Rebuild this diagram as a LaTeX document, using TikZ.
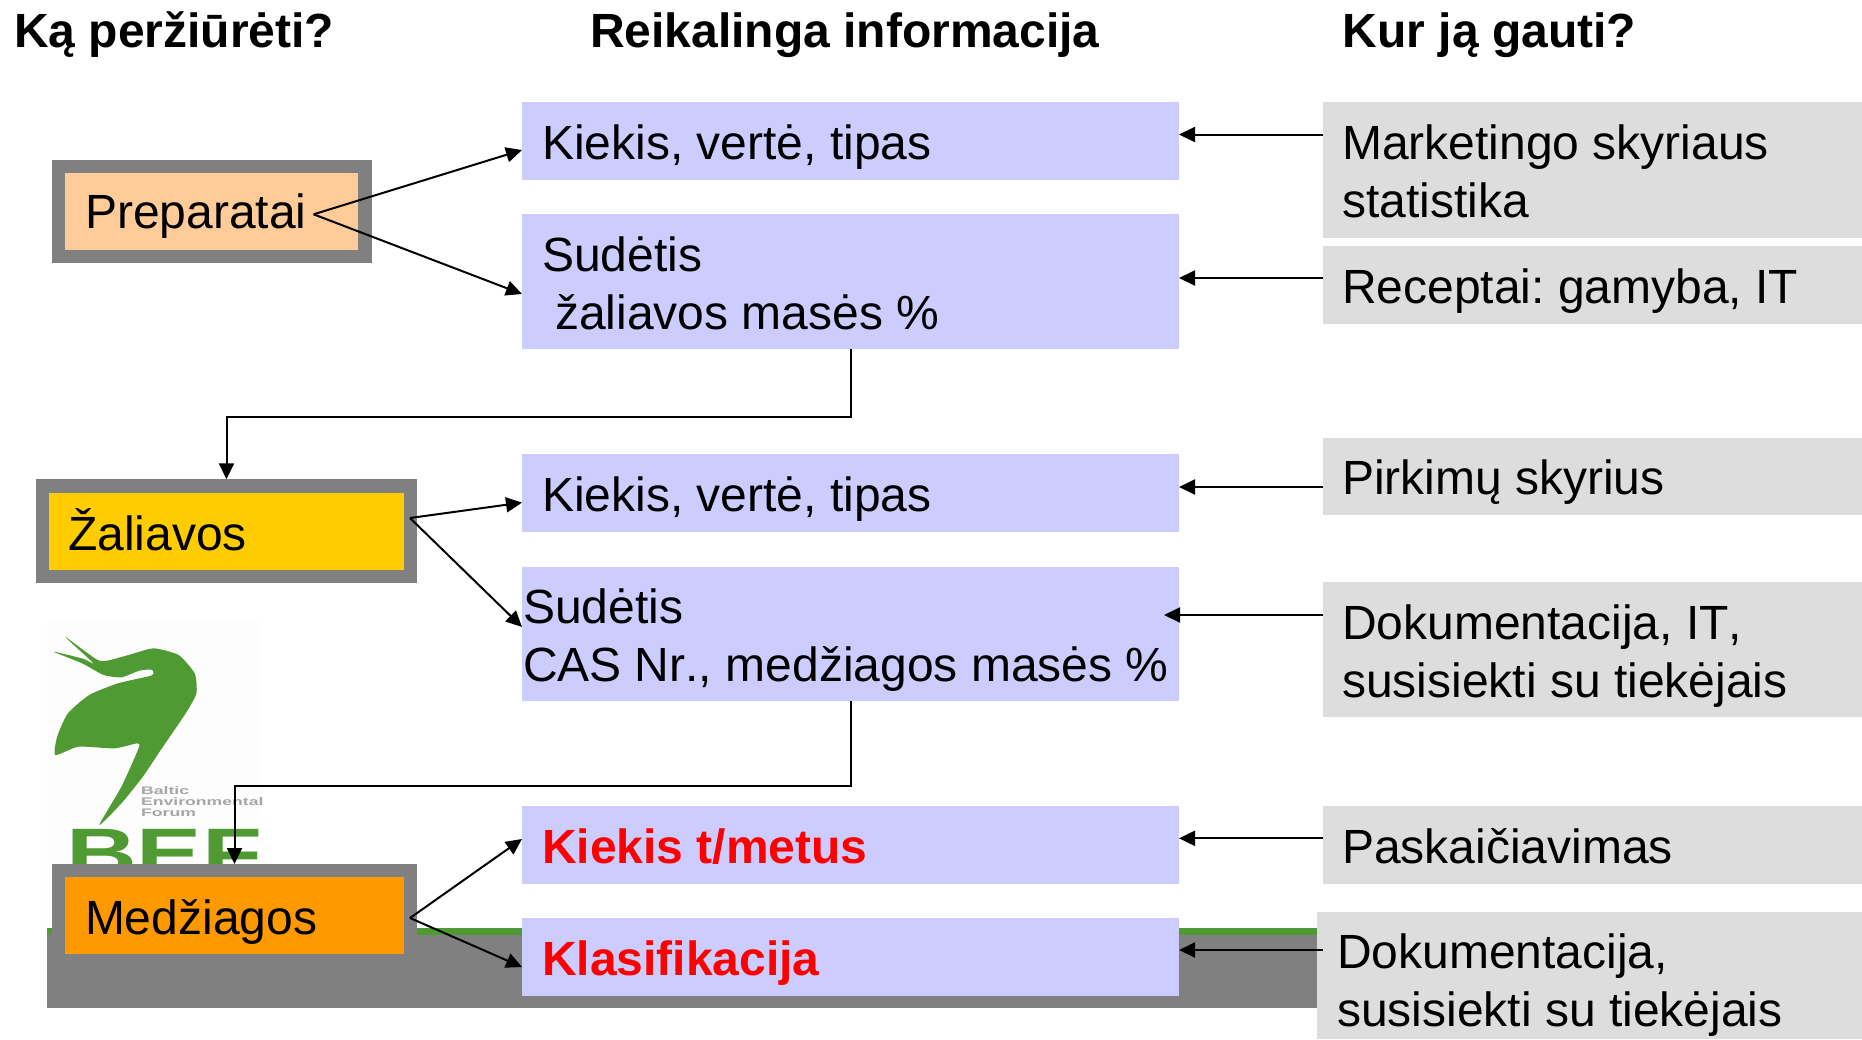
\documentclass[tikz,border=0pt]{standalone}
\usepackage{fontspec}
\setmainfont[Kerning=Off]{Liberation Sans}
\usetikzlibrary{arrows.meta,calc}
\definecolor{bluebox}{HTML}{CCCCFF}
\definecolor{greybox}{HTML}{DDDDDD}
\definecolor{framegrey}{HTML}{808080}
\definecolor{peach}{HTML}{FFCC99}
\definecolor{gold}{HTML}{FFCC00}
\definecolor{orangeb}{HTML}{FF9900}
\definecolor{logogreen}{HTML}{4F9A32}
\definecolor{logobg}{HTML}{FDFDFD}
\tikzset{
  box/.style={inner sep=0pt,outer sep=0pt,anchor=north west,font=\fontsize{48}{58}\selectfont},
  info/.style={box,fill=bluebox},
  infored/.style={box,fill=bluebox,text=red,font=\fontsize{48}{58}\selectfont\bfseries},
  source/.style={box,fill=greybox},
  frame/.style={box,fill=framegrey},
  head/.style={inner sep=0pt,anchor=base west,font=\fontsize{48}{58}\selectfont\bfseries},
  arr/.style={draw=black,line width=2pt,-{Triangle[length=16pt,width=15pt]}},
  elbow/.style={arr,line join=miter}
}
% name x0 y0 x1 y1 style inset firstbaseline text
\newcommand\bx[9]{\node[#6] (#1) at (#2,#3) {\parbox[c][\dimexpr #5pt-#3pt\relax][t]{\dimexpr #4pt-#2pt\relax}{\leftskip=#7pt \vspace*{\dimexpr #8pt-40.6pt\relax}#9}};}
\begin{document}
\begin{tikzpicture}[x=1pt,y=-1pt]
\useasboundingbox (0,0) rectangle (1862,1039);
% logo
\fill[logobg] (47,622) rectangle (262,930);
\begin{scope}[x=0.35714pt,y=-0.33333pt,shift={(0pt,-600pt)}]
\fill[logogreen] plot[smooth cycle,tension=0.35] coordinates {
 (182,110) (270,178) (300,182) (360,165) (430,145) (500,165) (545,220) (550,280) (520,340)
 (450,450) (400,530) (340,610) (278,675) (340,560) (388,445) (385,430) (320,445) (220,440) (155,465)
 (160,410) (190,340) (250,285) (330,250) (425,226) (425,209) (390,212) (340,232) (290,225)
 (230,190) (150,155) (232,176) (262,190)};
\end{scope}
\node[inner sep=0pt,anchor=base west,text=logogreen,font=\fontsize{70}{70}\selectfont\bfseries] (beftext) at (66,877) {\scalebox{1.4}[1]{BEF}};
\node[inner sep=0pt,anchor=north west,align=left,text=black!35,font=\fontsize{11}{11}\selectfont\bfseries] (beftiny) at (141,786) {\scalebox{1.6}[1]{Baltic}\\\scalebox{1.6}[1]{Environmental}\\\scalebox{1.6}[1]{Forum}};
% band
\fill[logogreen] (47,928) rectangle (1320,936);
\fill[framegrey] (47,935) rectangle (1320,1008);
% headers
\node[head] (h1t) at (14,47.5) {Ką peržiūrėti?};
\node[head] (h2t) at (590,47.5) {Reikalinga informacija};
\node[head] (h3t) at (1342.5,47.5) {Kur ją gauti?};
% left
\bx{pf}{52}{159.5}{371.6}{263}{frame}{0}{40.6}{\mbox{}}
\bx{p}{65}{172.7}{358}{250}{box,fill=peach}{20}{55.3}{\strut Preparatai}
\bx{zf}{36}{479.3}{417}{583.3}{frame}{0}{40.6}{\mbox{}}
\bx{z}{49}{492.7}{404}{570}{box,fill=gold}{19}{56.5}{\strut Žaliavos}
\bx{mf}{52}{864}{417}{967}{frame}{0}{40.6}{\mbox{}}
\bx{m}{65}{877}{404}{953.7}{box,fill=orangeb}{20}{57}{\strut Medžiagos}
% middle
\bx{b1}{522}{102}{1179}{180}{info}{20}{57}{\strut Kiekis, vertė, tipas}
\bx{b2}{522}{214}{1179}{349}{info}{20}{57}{\strut Sudėtis\\\strut\hspace*{13pt}žaliavos masės \%}
\bx{b3}{522}{453.6}{1179}{532}{info}{20}{58}{\strut Kiekis, vertė, tipas}
\bx{b4}{522}{566.5}{1179}{700.6}{info}{1}{56.5}{\strut Sudėtis\\\strut CAS Nr., medžiagos masės \%}
\bx{b5}{522}{806}{1179}{883.5}{infored}{20}{57}{\strut Kiekis t/metus}
\bx{b6}{522}{918}{1179}{996}{infored}{20}{57}{\strut Klasifikacija}
% right
\bx{g1}{1323}{102}{1862}{237.5}{source}{19}{57}{\strut Marketingo skyriaus\\\strut statistika}
\bx{g2}{1323}{246}{1862}{324}{source}{19}{57}{\strut Receptai:\ gamyba, IT}
\bx{g3}{1323}{438}{1862}{515}{source}{19}{56.5}{\strut Pirkimų skyrius}
\bx{g4}{1323}{582}{1862}{717}{source}{19}{57}{\strut Dokumentacija, IT,\\\strut susisiekti su tiekėjais}
\bx{g5}{1323}{806}{1862}{883.5}{source}{19}{57}{\strut Paskaičiavimas}
\bx{g6}{1317}{912}{1862}{1039}{source}{20}{56}{\strut Dokumentacija,\\\strut susisiekti su tiekėjais}
% hubs
\coordinate (hp) at (313.6,214.3);
\coordinate (hz) at (410,518);
\coordinate (hm) at (410,918);
\coordinate (e1) at (851,417);
\coordinate (e2) at (851,785.7);
% connectors
\draw[arr] (hp) -- ($(b1.north west)+(0,48)$);
\draw[arr] (hp) -- ($(b2.north west)+(0,80)$);
\draw[arr] (hz) -- ($(b3.north west)+(0,49)$);
\draw[arr] (hz) -- ($(b4.north west)+(0,60.5)$);
\draw[arr] (hm) -- ($(b5.north west)+(0,33)$);
\draw[arr] (hm) -- ($(b6.north west)+(0,49)$);
\draw[elbow] (b2.south -| e1) -- (e1) -| (zf.north);
\draw[elbow] (b4.south -| e2) -- (e2) -| (mf.north);
\draw[arr] ($(g1.north west)+(0,32.5)$) -- ($(b1.north east)+(0,32.5)$);
\draw[arr] ($(g2.north west)+(0,32)$) -- ($(b2.north east)+(0,64)$);
\draw[arr] ($(g3.north west)+(0,49)$) -- ($(b3.north east)+(0,33.4)$);
\draw[arr] ($(g4.north west)+(0,33)$) -- ($(b4.north east)+(-15,48.5)$);
\draw[arr] ($(g5.north west)+(0,32.3)$) -- ($(b5.north east)+(0,32.3)$);
\draw[arr] ($(g6.north west)+(6,38)$) -- ($(b6.north east)+(0,32)$);
\end{tikzpicture}
\end{document}
